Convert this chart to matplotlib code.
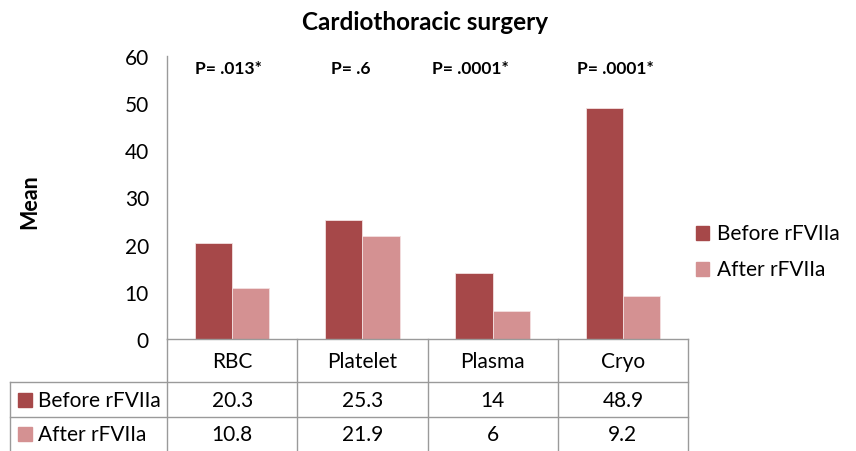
import matplotlib
matplotlib.use("Agg")
import matplotlib.pyplot as plt
import numpy as np
from matplotlib.patches import Rectangle
from matplotlib.lines import Line2D

categories = ["RBC", "Platelet", "Plasma", "Cryo"]
before = [20.3, 25.3, 14, 48.9]
after = [10.8, 21.9, 6, 9.2]
before_labels = ["20.3", "25.3", "14", "48.9"]
after_labels = ["10.8", "21.9", "6", "9.2"]
series_names = ["Before rFVIIa", "After rFVIIa"]
pvalues = ["P= .013*", "P= .6", "P= .0001*", "P= .0001*"]
pvalue_x = [-0.03, 0.91, 1.83, 2.94]
yticks = [0, 10, 20, 30, 40, 50, 60]

c_before = "#A64849"
c_after = "#D49192"
grid_c = "#9a9a9a"
FONT = "Lato"
plt.rcParams['font.family'] = [FONT, 'DejaVu Sans']
FS = 15

W, H = 856, 452
fig = plt.figure(figsize=(W / 100, H / 100), dpi=100)

def fx(px):
    return px / W

def fy(py):
    return 1 - py / H

x0, x1 = 167, 688
y0, y1 = 340, 57
ax = fig.add_axes([fx(x0), fy(y0), fx(x1) - fx(x0), fy(y1) - fy(y0)])
ax.set_xlim(-0.5, 3.5)
ax.set_ylim(0, 60)

x = np.arange(len(categories))
bw = 1 / 3.5
ax.bar(x - bw / 2, before, bw, color=c_before, edgecolor="#f3e0e0", linewidth=0.6, zorder=2)
ax.bar(x + bw / 2, after, bw, color=c_after, edgecolor="#f3e0e0", linewidth=0.6, zorder=2)

for s in ["top", "right", "bottom"]:
    ax.spines[s].set_visible(False)
ax.spines["left"].set_color(grid_c)
ax.spines["left"].set_linewidth(1)
ax.set_xticks([])
ax.set_yticks(yticks)
ax.tick_params(axis="y", length=0, pad=13, labelsize=FS)

# y label
fig.text(fx(30), fy(202), "Mean", rotation=90, ha="center", va="center",
         fontsize=15.5, fontweight="bold")
# title
fig.text(fx(425), fy(22), "Cardiothoracic surgery", ha="center", va="center",
         fontsize=17.5, fontweight="bold")

# p-values
for px_, t in zip(pvalue_x, pvalues):
    ax.text(px_, 57.5, t, ha="center", va="center", fontsize=12.5, fontweight="bold")

# data table lines
def hline(py, xa, xb):
    fig.add_artist(Line2D([fx(xa), fx(xb)], [fy(py), fy(py)], color=grid_c, lw=1))

def vline(px, ya, yb):
    fig.add_artist(Line2D([fx(px), fx(px)], [fy(ya), fy(yb)], color=grid_c, lw=1))

hline(340, x0, x1)
hline(383, 10, x1)
hline(418, 10, x1)
vline(10, 383, 452)
for k in range(5):
    vline(x0 + k * (x1 - x0) / 4, 340, 452)

for i, cat in enumerate(categories):
    cx = fx(x0 + (i + 0.5) * (x1 - x0) / 4)
    fig.text(cx, fy(362), cat, ha="center", va="center", fontsize=FS)
    fig.text(cx, fy(401), before_labels[i], ha="center", va="center", fontsize=FS)
    fig.text(cx, fy(435), after_labels[i], ha="center", va="center", fontsize=FS)

# row labels with keys
for py, name, col in [(401, series_names[0], c_before), (435, series_names[1], c_after)]:
    fig.add_artist(Rectangle((fx(18), fy(py + 7)), fx(14), fy(py - 7) - fy(py + 7), color=col))
    fig.text(fx(38), fy(py), name, ha="left", va="center", fontsize=FS)

# legend
for py, name, col in [(234, series_names[0], c_before), (270, series_names[1], c_after)]:
    fig.add_artist(Rectangle((fx(696), fy(py + 7)), fx(13), fy(py - 7) - fy(py + 7), color=col))
    fig.text(fx(717), fy(py), name, ha="left", va="center", fontsize=FS)

fig.savefig("out.png", dpi=100)
